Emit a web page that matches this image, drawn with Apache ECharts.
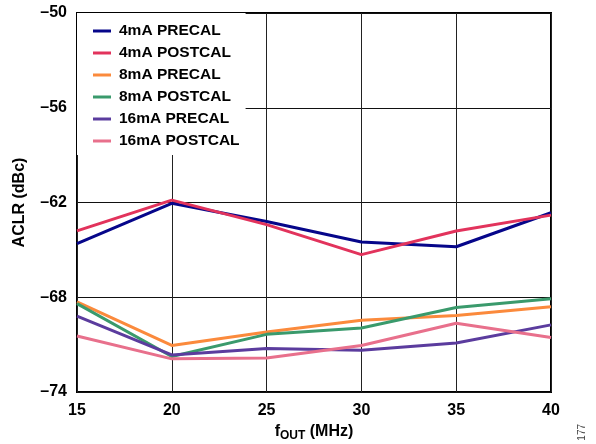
<!DOCTYPE html>
<html>
<head>
<meta charset="utf-8">
<script src="https://cdn.jsdelivr.net/npm/echarts@6/dist/echarts.min.js"></script>
<style>
  html, body { margin: 0; padding: 0; background: #fff; }
  #chart { width: 596px; height: 444px; }
</style>
</head>
<body>
<div id="chart"></div>
<script>
const freqs = [15, 20, 25, 30, 35, 40];
const yTicks = [-74, -68, -62, -56, -50];

const seriesNames = ['4mA PRECAL', '4mA POSTCAL', '8mA PRECAL', '8mA POSTCAL', '16mA PRECAL', '16mA POSTCAL'];
const pre4 = [-64.6, -62.05, -63.2, -64.5, -64.8, -62.65];
const post4 = [-63.8, -61.85, -63.4, -65.3, -63.8, -62.8];
const pre8 = [-68.3, -71.05, -70.2, -69.45, -69.15, -68.6];
const post8 = [-68.4, -71.75, -70.35, -69.95, -68.65, -68.1];
const pre16 = [-69.2, -71.65, -71.25, -71.35, -70.9, -69.75];
const post16 = [-70.45, -71.9, -71.85, -71.05, -69.65, -70.55];
const colors = ['#06068a', '#e2335c', '#fb8a3c', '#3a9a6c', '#5b3c9e', '#e8708c'];

const allValues = [pre4, post4, pre8, post8, pre16, post16];

const chart = echarts.init(document.getElementById('chart'));

const font = 'Liberation Sans, Arial, sans-serif';

chart.setOption({
  animation: false,
  textStyle: { fontFamily: font },
  grid: {
    left: 77, right: 45, top: 13, bottom: 52,
    outerBoundsMode: 'none',
    containLabel: false,
    show: true, borderColor: '#000', borderWidth: 2, backgroundColor: 'transparent'
  },
  legend: {
    left: 77, top: 13,
    orient: 'vertical',
    backgroundColor: '#fff',
    padding: [10, 6, 6, 16],
    itemGap: 6,
    itemWidth: 18,
    itemHeight: 3,
    icon: 'rect',
    textStyle: {
      fontFamily: font, fontWeight: 'bold', fontSize: 15.5, color: '#000',
      lineHeight: 15, padding: [0, 0, 0, 3]
    },
    data: seriesNames
  },
  xAxis: {
    type: 'value',
    min: 15, max: 40, interval: 5,
    name: '{a|f}{b|OUT}{a| (MHz)}',
    nameLocation: 'middle',
    nameGap: 30,
    nameTextStyle: {
      rich: {
        a: { fontFamily: font, fontWeight: 'bold', fontSize: 16, color: '#000' },
        b: { fontFamily: font, fontWeight: 'bold', fontSize: 12, color: '#000', padding: [8, 0, 0, 0] }
      }
    },
    axisLine: { show: false },
    axisTick: { show: false },
    axisLabel: { margin: 11, fontFamily: font, fontWeight: 'bold', fontSize: 16, color: '#000' },
    splitLine: { show: true, lineStyle: { color: '#222', width: 1 } }
  },
  yAxis: {
    type: 'value',
    min: -74, max: -50,
    name: 'ACLR (dBc)',
    nameLocation: 'middle',
    nameGap: 49,
    nameTextStyle: { fontFamily: font, fontWeight: 'bold', fontSize: 16, color: '#000' },
    axisLine: { show: false },
    axisTick: { show: false, customValues: yTicks },
    axisLabel: {
      customValues: yTicks,
      margin: 10, fontFamily: font, fontWeight: 'bold', fontSize: 16, color: '#000',
      formatter: (v) => String(v).replace('-', '\u2013')
    },
    splitLine: { show: true, lineStyle: { color: '#111', width: 1 } }
  },
  graphic: [{
    type: 'text',
    left: 577, top: 424,
    rotation: Math.PI / 2,
    style: { text: '177', fontFamily: font, fontSize: 10, fill: '#444' }
  }],
  series: seriesNames.map((name, i) => ({
    name,
    type: 'line',
    data: freqs.map((f, j) => [f, allValues[i][j]]),
    showSymbol: false,
    symbol: 'none',
    lineStyle: { color: colors[i], width: 3 },
    itemStyle: { color: colors[i] }
  }))
});
</script>
</body>
</html>
